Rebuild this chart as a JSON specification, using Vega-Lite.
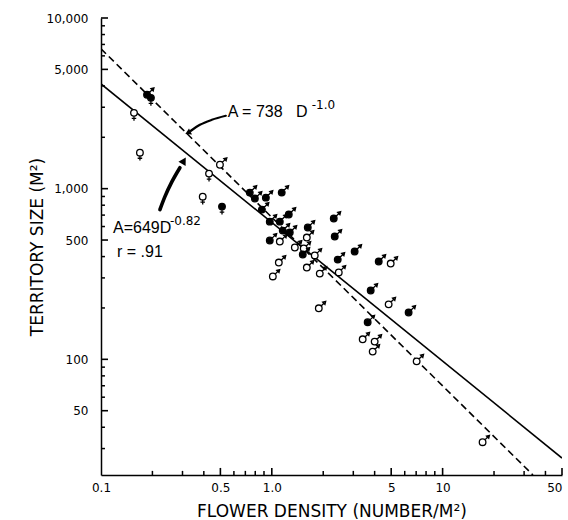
{
  "$schema": "https://vega.github.io/schema/vega-lite/v6.json",
  "width": 461,
  "height": 457,
  "autosize": {"type": "none"},
  "padding": {"left": 101, "top": 18, "right": 6, "bottom": 45},
  "background": "white",
  "config": {
    "view": {"stroke": null},
    "axis": {
      "grid": false,
      "labelFont": "DejaVu Sans",
      "titleFont": "DejaVu Sans",
      "labelColor": "black",
      "titleColor": "black",
      "domainColor": "black",
      "tickColor": "black",
      "titleFontWeight": "normal",
      "domainWidth": 1.5,
      "labelFlush": false
    }
  },
  "datasets": {
    "birds": [
      {"d": 0.186, "a": 3548, "sex": "male", "kind": "filled"},
      {"d": 0.196, "a": 3405, "sex": "female", "kind": "filled"},
      {"d": 0.156, "a": 2782, "sex": "female", "kind": "open"},
      {"d": 0.169, "a": 1624, "sex": "female", "kind": "open"},
      {"d": 0.497, "a": 1381, "sex": "male", "kind": "open"},
      {"d": 0.429, "a": 1225, "sex": "female", "kind": "open"},
      {"d": 0.394, "a": 898, "sex": "female", "kind": "open"},
      {"d": 0.511, "a": 785, "sex": "female", "kind": "filled"},
      {"d": 0.743, "a": 948, "sex": "male", "kind": "filled"},
      {"d": 0.796, "a": 875, "sex": "male", "kind": "filled"},
      {"d": 0.923, "a": 886, "sex": "male", "kind": "filled"},
      {"d": 1.143, "a": 948, "sex": "male", "kind": "filled"},
      {"d": 0.875, "a": 754, "sex": "male", "kind": "filled"},
      {"d": 0.973, "a": 641, "sex": "male", "kind": "filled"},
      {"d": 1.114, "a": 641, "sex": "male", "kind": "filled"},
      {"d": 1.257, "a": 705, "sex": "male", "kind": "filled"},
      {"d": 1.159, "a": 568, "sex": "male", "kind": "filled"},
      {"d": 1.274, "a": 553, "sex": "male", "kind": "filled"},
      {"d": 0.973, "a": 497, "sex": "male", "kind": "filled"},
      {"d": 1.114, "a": 490, "sex": "male", "kind": "open"},
      {"d": 1.364, "a": 452, "sex": "male", "kind": "open"},
      {"d": 1.624, "a": 592, "sex": "male", "kind": "filled"},
      {"d": 1.603, "a": 517, "sex": "male", "kind": "open"},
      {"d": 1.538, "a": 446, "sex": "male", "kind": "open"},
      {"d": 1.518, "a": 411, "sex": "male", "kind": "filled"},
      {"d": 1.784, "a": 406, "sex": "male", "kind": "open"},
      {"d": 2.305, "a": 668, "sex": "male", "kind": "filled"},
      {"d": 2.336, "a": 524, "sex": "male", "kind": "filled"},
      {"d": 2.432, "a": 384, "sex": "male", "kind": "filled"},
      {"d": 1.099, "a": 369, "sex": "male", "kind": "open"},
      {"d": 1.014, "a": 306, "sex": "male", "kind": "open"},
      {"d": 1.603, "a": 345, "sex": "male", "kind": "open"},
      {"d": 1.909, "a": 318, "sex": "male", "kind": "open"},
      {"d": 2.466, "a": 323, "sex": "male", "kind": "open"},
      {"d": 3.055, "a": 428, "sex": "male", "kind": "filled"},
      {"d": 4.226, "a": 374, "sex": "male", "kind": "filled"},
      {"d": 4.966, "a": 364, "sex": "male", "kind": "open"},
      {"d": 3.793, "a": 253, "sex": "male", "kind": "filled"},
      {"d": 1.884, "a": 199, "sex": "male", "kind": "open"},
      {"d": 4.831, "a": 210, "sex": "male", "kind": "open"},
      {"d": 6.324, "a": 188, "sex": "male", "kind": "filled"},
      {"d": 3.641, "a": 165, "sex": "male", "kind": "filled"},
      {"d": 3.404, "a": 131, "sex": "male", "kind": "open"},
      {"d": 4.001, "a": 127, "sex": "male", "kind": "open"},
      {"d": 3.896, "a": 111, "sex": "male", "kind": "open"},
      {"d": 7.047, "a": 97.3, "sex": "male", "kind": "open"},
      {"d": 17.14, "a": 32.7, "sex": "male", "kind": "open"}
    ],
    "fits": [
      {"fit": "dashed", "d": 0.1, "a": 6600},
      {"fit": "dashed", "d": 33.8, "a": 21},
      {"fit": "solid", "d": 0.1, "a": 4110},
      {"fit": "solid", "d": 50, "a": 26.4}
    ],
    "xticks": [
      {"v": 0.2, "rank": "minor"}, {"v": 0.3, "rank": "minor"}, {"v": 0.4, "rank": "minor"},
      {"v": 0.5, "rank": "major"}, {"v": 0.6, "rank": "minor"}, {"v": 0.7, "rank": "minor"},
      {"v": 0.8, "rank": "minor"}, {"v": 0.9, "rank": "minor"}, {"v": 1, "rank": "major"},
      {"v": 2, "rank": "minor"}, {"v": 3, "rank": "minor"}, {"v": 4, "rank": "minor"},
      {"v": 5, "rank": "major"}, {"v": 6, "rank": "minor"}, {"v": 7, "rank": "minor"},
      {"v": 8, "rank": "minor"}, {"v": 9, "rank": "minor"}, {"v": 10, "rank": "major"},
      {"v": 20, "rank": "minor"}, {"v": 30, "rank": "minor"}, {"v": 40, "rank": "minor"},
      {"v": 50, "rank": "major"}
    ],
    "yticks": [
      {"v": 30, "rank": "minor"}, {"v": 40, "rank": "minor"}, {"v": 50, "rank": "major"},
      {"v": 60, "rank": "minor"}, {"v": 70, "rank": "minor"}, {"v": 80, "rank": "minor"},
      {"v": 90, "rank": "minor"}, {"v": 100, "rank": "major"}, {"v": 200, "rank": "minor"},
      {"v": 300, "rank": "minor"}, {"v": 400, "rank": "minor"}, {"v": 500, "rank": "major"},
      {"v": 600, "rank": "minor"}, {"v": 700, "rank": "minor"}, {"v": 800, "rank": "minor"},
      {"v": 900, "rank": "minor"}, {"v": 1000, "rank": "major"}, {"v": 2000, "rank": "minor"},
      {"v": 3000, "rank": "minor"}, {"v": 4000, "rank": "minor"}, {"v": 5000, "rank": "major"},
      {"v": 6000, "rank": "minor"}, {"v": 7000, "rank": "minor"}, {"v": 8000, "rank": "minor"},
      {"v": 9000, "rank": "minor"}, {"v": 10000, "rank": "major"}
    ],
    "arrows": [
      {"arrow": "thin", "ord": 1, "d": 0.538, "a": 2673},
      {"arrow": "thin", "ord": 2, "d": 0.4457, "a": 2532},
      {"arrow": "thin", "ord": 3, "d": 0.3793, "a": 2367},
      {"arrow": "thin", "ord": 4, "d": 0.336, "a": 2184},
      {"arrow": "thick", "ord": 1, "d": 0.2213, "a": 754},
      {"arrow": "thick", "ord": 2, "d": 0.2367, "a": 898},
      {"arrow": "thick", "ord": 3, "d": 0.2602, "a": 1099},
      {"arrow": "thick", "ord": 4, "d": 0.2897, "a": 1327}
    ],
    "heads": [
      {"arrow": "thin", "d": 0.3227, "a": 2126},
      {"arrow": "thick", "d": 0.3057, "a": 1458}
    ],
    "notes": [
      {"part": "main", "label": "A = 738\u00a0\u00a0\u00a0D", "d": 0.553, "a": 2820},
      {"part": "sup", "label": "-1.0", "d": 1.714, "a": 3099},
      {"part": "main", "label": "A=649D", "d": 0.1175, "a": 591},
      {"part": "sup", "label": "-0.82", "d": 0.2532, "a": 650},
      {"part": "main", "label": "r = .91", "d": 0.1241, "a": 428}
    ]
  },
  "layer": [
    {
      "data": {"name": "fits"},
      "transform": [{"filter": "datum.fit == 'dashed'"}],
      "mark": {"type": "line", "color": "black", "strokeWidth": 1.6, "strokeDash": [7, 4], "clip": true},
      "encoding": {
        "x": {"field": "d", "type": "quantitative",
          "scale": {"type": "log", "domain": [0.1, 50], "nice": false, "zero": false},
          "axis": {"orient": "bottom", "values": [0.1, 0.5, 1, 5, 10, 50], "ticks": false, "domain": true, "labelFontSize": 12, "labelPadding": 7,
            "labelExpr": "datum.value <= 1 ? format(datum.value, '.1f') : format(datum.value, 'd')",
            "labelAlign": {"condition": {"test": "datum.value == 50", "value": "right"}, "value": "center"},
            "title": "FLOWER DENSITY (NUMBER/M²)", "titleFontSize": 17, "titlePadding": 10}},
        "y": {"field": "a", "type": "quantitative",
          "scale": {"type": "log", "domain": [21, 10000], "nice": false, "zero": false},
          "axis": {"orient": "left", "values": [50, 100, 500, 1000, 5000, 10000], "ticks": false, "domain": true, "labelFontSize": 12, "labelPadding": 13, "format": ",.0f",
            "title": "TERRITORY SIZE (M²)", "titleFontSize": 17, "titlePadding": 0}}
      }
    },
    {
      "data": {"name": "xticks"},
      "transform": [{"filter": "datum.rank == 'minor'"}],
      "mark": {"type": "rule", "color": "black", "strokeWidth": 1.5},
      "encoding": {
        "x": {"field": "v", "type": "quantitative"},
        "y": {"datum": 21, "type": "quantitative"},
        "y2": {"datum": 22.2}
      }
    },
    {
      "data": {"name": "xticks"},
      "transform": [{"filter": "datum.rank == 'major'"}],
      "mark": {"type": "rule", "color": "black", "strokeWidth": 1.6},
      "encoding": {
        "x": {"field": "v", "type": "quantitative"},
        "y": {"datum": 21, "type": "quantitative"},
        "y2": {"datum": 23.1}
      }
    },
    {
      "data": {"name": "yticks"},
      "transform": [{"filter": "datum.rank == 'minor'"}],
      "mark": {"type": "rule", "color": "black", "strokeWidth": 1.5},
      "encoding": {
        "y": {"field": "v", "type": "quantitative"},
        "x": {"datum": 0.1, "type": "quantitative"},
        "x2": {"datum": 0.1055}
      }
    },
    {
      "data": {"name": "yticks"},
      "transform": [{"filter": "datum.rank == 'major'"}],
      "mark": {"type": "rule", "color": "black", "strokeWidth": 1.6},
      "encoding": {
        "y": {"field": "v", "type": "quantitative"},
        "x": {"datum": 0.1, "type": "quantitative"},
        "x2": {"datum": 0.1099}
      }
    },
    {
      "data": {"name": "fits"},
      "transform": [{"filter": "datum.fit == 'solid'"}],
      "mark": {"type": "line", "color": "black", "strokeWidth": 1.6, "clip": true},
      "encoding": {
        "x": {"field": "d", "type": "quantitative"},
        "y": {"field": "a", "type": "quantitative"}
      }
    },
    {
      "data": {"name": "arrows"},
      "transform": [{"filter": "datum.arrow == 'thin'"}],
      "mark": {"type": "line", "color": "black", "strokeWidth": 2.2, "strokeCap": "round", "interpolate": "monotone"},
      "encoding": {
        "x": {"field": "d", "type": "quantitative"},
        "y": {"field": "a", "type": "quantitative"},
        "order": {"field": "ord"}
      }
    },
    {
      "data": {"name": "arrows"},
      "transform": [{"filter": "datum.arrow == 'thick'"}],
      "mark": {"type": "line", "color": "black", "strokeWidth": 3.6, "strokeCap": "round", "interpolate": "monotone"},
      "encoding": {
        "x": {"field": "d", "type": "quantitative"},
        "y": {"field": "a", "type": "quantitative"},
        "order": {"field": "ord"}
      }
    },
    {
      "data": {"name": "heads"},
      "transform": [{"filter": "datum.arrow == 'thin'"}],
      "mark": {"type": "point", "shape": "triangle-up", "filled": true, "color": "black", "opacity": 1, "size": 45, "angle": 243},
      "encoding": {
        "x": {"field": "d", "type": "quantitative"},
        "y": {"field": "a", "type": "quantitative"}
      }
    },
    {
      "data": {"name": "heads"},
      "transform": [{"filter": "datum.arrow == 'thick'"}],
      "mark": {"type": "point", "shape": "triangle-up", "filled": true, "color": "black", "opacity": 1, "size": 70, "angle": 31},
      "encoding": {
        "x": {"field": "d", "type": "quantitative"},
        "y": {"field": "a", "type": "quantitative"}
      }
    },
    {
      "data": {"name": "birds"},
      "mark": {"type": "point", "filled": true, "opacity": 1, "stroke": "black", "strokeWidth": 1.3, "size": 225},
      "encoding": {
        "x": {"field": "d", "type": "quantitative"},
        "y": {"field": "a", "type": "quantitative"},
        "shape": {"field": "sex", "type": "nominal", "legend": null,
          "scale": {"domain": ["male", "female"], "range": [
            "M-0.44,0A0.44,0.44,0,1,1,0.44,0A0.44,0.44,0,1,1,-0.44,0ZM0.31,-0.31L0.75,-0.75M0.92,-0.92L0.52,-0.82L0.82,-0.52Z",
            "M-0.44,0A0.44,0.44,0,1,1,0.44,0A0.44,0.44,0,1,1,-0.44,0ZM0,0.44L0,1.05M-0.3,0.74L0.3,0.74"
          ]}},
        "fill": {"field": "kind", "type": "nominal", "legend": null,
          "scale": {"domain": ["filled", "open"], "range": ["black", "white"]}}
      }
    },
    {
      "data": {"name": "notes"},
      "transform": [{"filter": "datum.part == 'main'"}],
      "mark": {"type": "text", "font": "Liberation Sans", "fontSize": 16, "align": "left", "baseline": "middle", "color": "black"},
      "encoding": {
        "x": {"field": "d", "type": "quantitative"},
        "y": {"field": "a", "type": "quantitative"},
        "text": {"field": "label"}
      }
    },
    {
      "data": {"name": "notes"},
      "transform": [{"filter": "datum.part == 'sup'"}],
      "mark": {"type": "text", "font": "DejaVu Sans", "fontSize": 12, "align": "left", "baseline": "middle", "color": "black"},
      "encoding": {
        "x": {"field": "d", "type": "quantitative"},
        "y": {"field": "a", "type": "quantitative"},
        "text": {"field": "label"}
      }
    }
  ]
}
